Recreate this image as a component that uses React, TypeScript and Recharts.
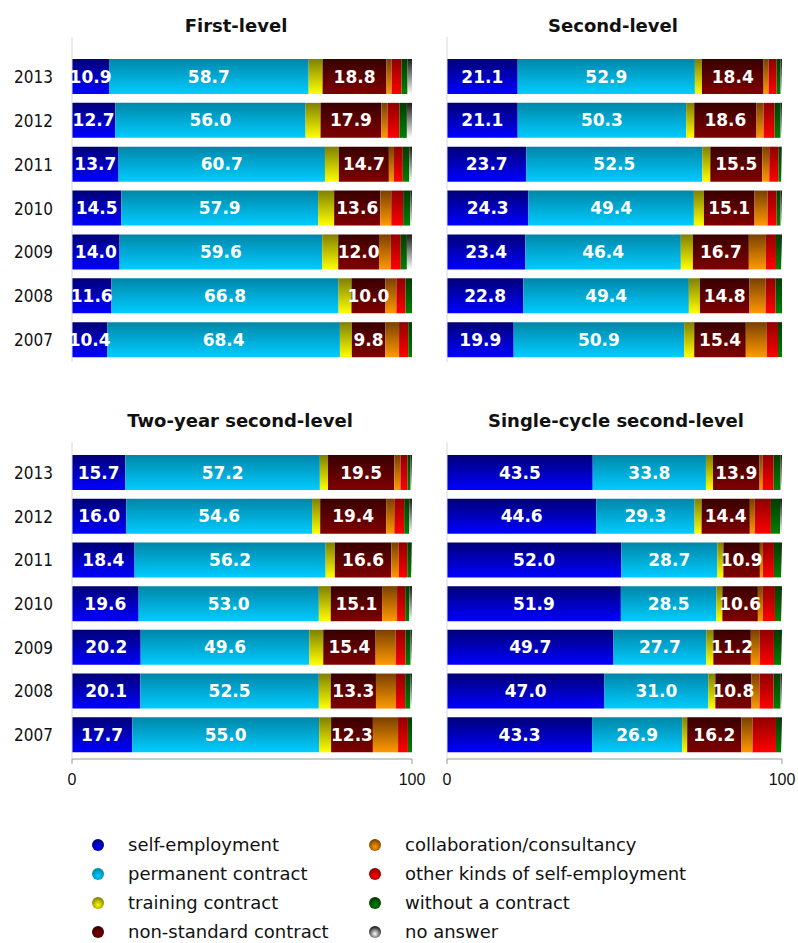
import { Bar, BarChart, LabelList, XAxis, YAxis } from "recharts";

const years = ["2013", "2012", "2011", "2010", "2009", "2008", "2007"];

const categories = [
  "self-employment",
  "permanent contract",
  "training contract",
  "non-standard contract",
  "collaboration/consultancy",
  "other kinds of self-employment",
  "without a contract",
  "no answer",
];

// gradient colours: [top, bottom]
const colors: [string, string][] = [
  ["#000078", "#0000ff"],
  ["#0086a8", "#00ccff"],
  ["#808000", "#ffff00"],
  ["#380000", "#800000"],
  ["#7a4000", "#ff9900"],
  ["#900000", "#ff0000"],
  ["#003c00", "#008000"],
  ["#1a1a1a", "#ffffff"],
];

// series in category order, rows 2013 -> 2007
const firstLevel = [
  [10.9, 12.7, 13.7, 14.5, 14.0, 11.6, 10.4],
  [58.7, 56.0, 60.7, 57.9, 59.6, 66.8, 68.4],
  [4.1, 4.4, 4.1, 4.7, 4.7, 3.8, 3.5],
  [18.8, 17.9, 14.7, 13.6, 12.0, 10.0, 9.8],
  [1.5, 1.8, 1.5, 3.2, 3.5, 3.2, 4.1],
  [2.9, 3.5, 2.6, 3.5, 2.9, 2.7, 2.7],
  [1.8, 2.2, 1.9, 2.1, 1.8, 1.9, 1.1],
  [1.3, 1.5, 0.8, 0.5, 1.5, 0, 0],
];

const secondLevel = [
  [21.1, 21.1, 23.7, 24.3, 23.4, 22.8, 19.9],
  [52.9, 50.3, 52.5, 49.4, 46.4, 49.4, 50.9],
  [2.1, 2.4, 2.4, 3.0, 3.6, 3.3, 3.0],
  [18.4, 18.6, 15.5, 15.1, 16.7, 14.8, 15.4],
  [1.5, 2.1, 2.1, 3.9, 5.1, 4.8, 6.3],
  [2.4, 3.3, 2.7, 2.7, 3.0, 3.0, 3.3],
  [1.2, 1.8, 0.9, 1.2, 1.5, 1.9, 1.2],
  [0.4, 0.4, 0.2, 0.4, 0.3, 0, 0],
];

const twoYear = [
  [15.7, 16.0, 18.4, 19.6, 20.2, 20.1, 17.7],
  [57.2, 54.6, 56.2, 53.0, 49.6, 52.5, 55.0],
  [2.4, 2.4, 2.7, 3.5, 4.1, 3.5, 3.5],
  [19.5, 19.4, 16.6, 15.1, 15.4, 13.3, 12.3],
  [1.8, 2.4, 2.2, 4.4, 5.9, 5.9, 7.4],
  [2.1, 2.9, 2.5, 2.4, 2.9, 2.7, 2.9],
  [0.9, 1.5, 1.2, 1.2, 1.5, 1.5, 1.2],
  [0.4, 0.8, 0.2, 0.8, 0.4, 0.5, 0],
];

const singleCycle = [
  [43.5, 44.6, 52.0, 51.9, 49.7, 47.0, 43.3],
  [33.8, 29.3, 28.7, 28.5, 27.7, 31.0, 26.9],
  [2.1, 2.1, 1.8, 1.8, 2.1, 2.1, 1.5],
  [13.9, 14.4, 10.9, 10.6, 11.2, 10.8, 16.2],
  [0.9, 1.5, 0.9, 1.5, 2.7, 2.4, 3.3],
  [3.3, 4.8, 3.3, 3.6, 4.2, 4.2, 7.0],
  [2.1, 2.7, 2.1, 1.8, 2.1, 2.1, 1.5],
  [0.4, 0.6, 0.3, 0.3, 0.3, 0.4, 0.3],
];

const labelled = [0, 1, 3];
const CONDENSED = "'DejaVu Sans Condensed', 'DejaVu Sans', sans-serif";
const SANS = "'DejaVu Sans', sans-serif";

function toRows(series: number[][]) {
  return years.map((year, i) => {
    const row: Record<string, string | number> = { year };
    series.forEach((s, k) => (row["s" + k] = s[i]));
    return row;
  });
}

type PanelProps = {
  id: string;
  title: string;
  series: number[][];
  left: number;
  top: number;
  width: number;
  height: number;
  axisWidth: number;
  marginTop: number;
  marginRight: number;
  padTop: number;
  padBottom: number;
  showYears: boolean;
  showX: boolean;
  titleX: number;
  titleY: number;
};

function Panel(p: PanelProps) {
  const data = toRows(p.series);
  return (
    <>
      <div
        style={{
          position: "absolute",
          left: p.titleX - 200,
          top: p.titleY - 12,
          width: 400,
          textAlign: "center",
          fontFamily: SANS,
          fontWeight: "bold",
          fontSize: 18,
          lineHeight: "24px",
          color: "#111",
        }}
      >
        {p.title}
      </div>
      <div style={{ position: "absolute", left: p.left, top: p.top }}>
        <BarChart
          width={p.width}
          height={p.height}
          data={data}
          layout="vertical"
          barSize={35}
          margin={{ top: p.marginTop, right: p.marginRight, bottom: 0, left: 0 }}
        >
          <defs>
            {colors.map(([a, b], k) => (
              <linearGradient key={k} id={`${p.id}g${k}`} x1="0" y1="0" x2="0" y2="1">
                <stop offset="0%" stopColor={a} />
                <stop offset="100%" stopColor={b} />
              </linearGradient>
            ))}
          </defs>
          <XAxis
            type="number"
            domain={[0, 100]}
            ticks={[0, 100]}
            hide={!p.showX}
            height={30}
            stroke="#999"
            tickSize={5}
            tickMargin={10}
            tick={{ fill: "#111", fontSize: 16, fontFamily: "'Liberation Sans', Arial, sans-serif" }}
          />
          <YAxis
            type="category"
            dataKey="year"
            width={p.axisWidth}
            stroke="#d8d8d8"
            tickLine={false}
            tickSize={0}
            tickMargin={19}
            padding={{ top: p.padTop, bottom: p.padBottom }}
            tick={p.showYears ? { fill: "#111", fontSize: 17, fontFamily: CONDENSED } : false}
          />
          {categories.map((c, k) => (
            <Bar key={c} dataKey={"s" + k} name={c} stackId="a" fill={`url(#${p.id}g${k})`} isAnimationActive={false}>
              {labelled.includes(k) && (
                <LabelList
                  dataKey={"s" + k}
                  position="center"
                  fill="#fff"
                  fontSize={17}
                  fontWeight="bold"
                  fontFamily={SANS}
                  formatter={(v: any) => Number(v).toFixed(1)}
                />
              )}
            </Bar>
          ))}
        </BarChart>
      </div>
    </>
  );
}

export default function App() {
  return (
    <div style={{ position: "absolute", left: 0, top: 0, width: 798, height: 943, background: "#fff" }}>
      <Panel id="p1" title="First-level" series={firstLevel} left={0} top={0} width={460} height={362}
        axisWidth={72} marginTop={37} marginRight={48} padTop={18} padBottom={0} showYears showX={false} titleX={236} titleY={26} />
      <Panel id="p2" title="Second-level" series={secondLevel} left={400} top={0} width={398} height={362}
        axisWidth={47} marginTop={37} marginRight={16} padTop={18} padBottom={0} showYears={false} showX={false} titleX={613} titleY={26} />
      <Panel id="p3" title="Two-year second-level" series={twoYear} left={0} top={400} width={460} height={389}
        axisWidth={72} marginTop={42} marginRight={48} padTop={9} padBottom={2} showYears showX titleX={240} titleY={421} />
      <Panel id="p4" title="Single-cycle second-level" series={singleCycle} left={400} top={400} width={398} height={389}
        axisWidth={47} marginTop={42} marginRight={16} padTop={9} padBottom={2} showYears={false} showX titleX={616} titleY={421} />
      {categories.map((c, k) => {
        const col = k < 4 ? 0 : 1;
        const row = k % 4;
        const cx = col === 0 ? 98 : 375;
        const tx = col === 0 ? 128 : 405;
        const cy = 845 + row * 29;
        return (
          <div key={c}>
            <svg style={{ position: "absolute", left: cx - 7, top: cy - 7 }} width={14} height={14}>
              <defs>
                <radialGradient id={`lg${k}`} cx="50%" cy="65%" r="60%">
                  <stop offset="0%" stopColor={colors[k][1]} />
                  <stop offset="100%" stopColor={colors[k][0]} />
                </radialGradient>
              </defs>
              <circle cx={7} cy={7} r={6} fill={`url(#lg${k})`} />
            </svg>
            <div
              style={{
                position: "absolute",
                left: tx,
                top: cy - 12,
                lineHeight: "24px",
                fontSize: 18,
                fontFamily: SANS,
                color: "#111",
                whiteSpace: "nowrap",
              }}
            >
              {c}
            </div>
          </div>
        );
      })}
    </div>
  );
}
